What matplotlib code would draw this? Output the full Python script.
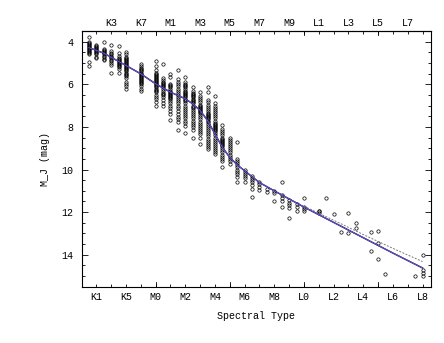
import matplotlib
matplotlib.use("Agg")
import matplotlib.pyplot as plt
from matplotlib.ticker import MultipleLocator

plt.rcParams['font.family'] = ['Liberation Mono', 'DejaVu Sans Mono']

# --- Data: spectral-type code (M0 = 0, L0 = 10, K7 = -1, K1 = -4) and M_J per column ---
mj_K0 = [3.78, 4.0, 4.05, 4.1, 4.15, 4.2, 4.25, 4.3, 4.35, 4.4, 4.45, 4.5, 4.55, 4.6, 4.95, 5.15]
mj_K1 = [4.15, 4.2, 4.25, 4.3, 4.35, 4.4, 4.45, 4.5, 4.55, 4.6, 4.7, 4.75]
mj_K2 = [4.0, 4.35, 4.4, 4.45, 4.5, 4.55, 4.6, 4.65, 4.7, 4.8, 4.88]
mj_K3 = [4.18, 4.45, 4.55, 4.6, 4.65, 4.7, 4.75, 4.85, 4.9, 5.0, 5.1, 5.45]
mj_K4 = [4.2, 4.55, 4.65, 4.75, 4.8, 4.85, 4.9, 4.95, 5.0, 5.05, 5.1, 5.15, 5.2, 5.3, 5.45]
mj_K5 = [4.5, 4.6, 4.7, 4.75, 4.8, 4.85, 4.9, 4.95, 5.0, 5.05, 5.1, 5.15, 5.2, 5.25, 5.3,
         5.35, 5.4, 5.45, 5.5, 5.55, 5.6, 5.7, 5.9, 6.0, 6.1, 6.2]
mj_K7 = [5.05, 5.15, 5.25, 5.3, 5.35, 5.4, 5.45, 5.5, 5.55, 5.6, 5.65, 5.7, 5.75, 5.8, 5.85,
         5.9, 5.95, 6.0, 6.1, 6.2, 6.3]
mj_M0 = [4.92, 5.12, 5.35, 5.45, 5.5, 5.55, 5.6, 5.65, 5.7, 5.75, 5.8, 5.85, 5.9, 5.95, 6.0,
         6.05, 6.1, 6.15, 6.2, 6.25, 6.3, 6.35, 6.5, 6.6, 6.7, 6.85, 7.0]
mj_M05 = [5.04, 5.7, 5.8, 5.9, 5.95, 6.0, 6.05, 6.1, 6.15, 6.2, 6.3, 6.4, 6.45, 6.5, 6.6,
          6.75, 6.9, 7.0]
mj_M1 = [5.5, 5.67, 6.0, 6.05, 6.1, 6.15, 6.2, 6.3, 6.35, 6.4, 6.45, 6.5, 6.55, 6.6, 6.65,
         6.7, 6.8, 6.9, 7.0, 7.1, 7.25, 7.4, 7.67]
mj_M15 = [5.35, 5.74, 5.9, 6.0, 6.1, 6.2, 6.3, 6.4, 6.5, 6.6, 6.7, 6.8, 6.9, 7.0, 7.1,
          7.25, 7.4, 7.55, 7.65, 7.75, 8.13]
mj_M2 = [5.66, 5.9, 6.0, 6.05, 6.1, 6.15, 6.2, 6.3, 6.35, 6.4, 6.45, 6.5, 6.55, 6.6, 6.7,
         6.75, 6.8, 6.9, 7.0, 7.1, 7.2, 7.3, 7.4, 7.5, 7.6, 7.7, 7.8, 7.95, 8.28]
mj_M25 = [6.14, 6.3, 6.4, 6.45, 6.5, 6.55, 6.6, 6.7, 6.75, 6.8, 6.85, 6.9, 7.0, 7.05, 7.1,
          7.2, 7.3, 7.4, 7.5, 7.6, 7.7, 7.8, 7.9, 8.0, 8.15, 8.5]
mj_M3 = [6.37, 6.55, 6.65, 6.75, 6.85, 6.95, 7.0, 7.05, 7.1, 7.15, 7.2, 7.25, 7.3, 7.35, 7.45,
         7.55, 7.65, 7.75, 7.85, 7.95, 8.05, 8.15, 8.25, 8.35, 8.5, 8.8]
mj_M35 = [6.14, 6.37, 6.75, 6.85, 6.95, 7.05, 7.15, 7.25, 7.35, 7.4, 7.45, 7.5, 7.55, 7.6,
          7.65, 7.7, 7.75, 7.85, 7.95, 8.05, 8.15, 8.25, 8.35, 8.45, 8.55, 8.65, 8.75, 8.85,
          8.95, 9.05]
mj_M4 = [6.55, 6.9, 7.0, 7.1, 7.2, 7.3, 7.4, 7.5, 7.6, 7.7, 7.8, 7.85, 7.9, 7.95, 8.0, 8.05,
         8.1, 8.15, 8.2, 8.3, 8.4, 8.5, 8.6, 8.7, 8.8, 8.9, 9.0, 9.1, 9.2, 9.27]
mj_M45 = [7.9, 8.1, 8.2, 8.3, 8.4, 8.5, 8.55, 8.6, 8.65, 8.7, 8.75, 8.8, 8.85, 8.9, 9.0,
          9.1, 9.2, 9.3, 9.4, 9.5, 9.6, 9.9]
mj_M5 = [8.5, 8.6, 8.7, 8.8, 8.9, 9.0, 9.1, 9.2, 9.3, 9.4, 9.5, 9.6, 9.75]
mj_M55 = [8.7, 9.5, 9.6, 9.7, 9.8, 9.9, 10.0, 10.1, 10.2, 10.35, 10.6]
mj_M6 = [10.0, 10.1, 10.2, 10.3, 10.4, 10.6]
mj_M65 = [10.3, 10.4, 10.5, 10.6, 10.75, 10.9, 11.3]
mj_M7 = [10.6, 10.7, 10.8, 10.95]
mj_M75 = [10.92, 11.05]
mj_M8 = [11.0, 11.1, 11.5]
mj_M85 = [10.6, 11.2, 11.34, 11.5, 11.74]
mj_M9 = [11.42, 11.55, 11.66, 11.8, 12.28]
mj_M95 = [11.61, 11.75, 11.97]
mj_L0 = [11.34, 11.74, 11.85, 11.97]
mj_L1 = [11.94, 11.97, 12.05]
mj_L15 = [11.34]
mj_L2 = [12.08]
mj_L25 = [12.91]
mj_L3 = [12.02, 12.99]
mj_L35 = [12.52, 12.75]
mj_L45 = [12.94, 13.82]
mj_L5 = [12.87, 13.46, 14.21]
mj_L55 = [14.9]
mj_L75 = [15.0]
mj_L8 = [14.01, 14.72, 14.85, 15.0]

columns = [(-4.5, mj_K0), (-4, mj_K1), (-3.5, mj_K2), (-3, mj_K3), (-2.5, mj_K4),
           (-2, mj_K5), (-1, mj_K7), (0, mj_M0), (0.5, mj_M05), (1, mj_M1),
           (1.5, mj_M15), (2, mj_M2), (2.5, mj_M25), (3, mj_M3), (3.5, mj_M35),
           (4, mj_M4), (4.5, mj_M45), (5, mj_M5), (5.5, mj_M55), (6, mj_M6),
           (6.5, mj_M65), (7, mj_M7), (7.5, mj_M75), (8, mj_M8), (8.5, mj_M85),
           (9, mj_M9), (9.5, mj_M95), (10, mj_L0), (11, mj_L1), (11.5, mj_L15),
           (12, mj_L2), (12.5, mj_L25), (13, mj_L3), (13.5, mj_L35), (14.5, mj_L45),
           (15, mj_L5), (15.5, mj_L55), (17.5, mj_L75), (18, mj_L8)]

# Relation curves
fit_spt = [-4.5, -3.5, -2, -1, 0, 1, 2, 2.5, 3, 3.5, 4, 4.5, 5, 5.5, 6, 7, 8, 9, 10, 12, 14, 16, 18]
fit_mj = [4.28, 4.54, 5.12, 5.51, 5.98, 6.37, 6.68, 6.92, 7.23, 7.70, 8.33, 8.96, 9.43, 9.78,
          10.06, 10.61, 11.00, 11.38, 11.76, 12.48, 13.20, 13.92, 14.62]
dash_spt = [10, 12, 14, 16, 18]
dash_mj = [11.72, 12.38, 13.05, 13.70, 14.32]

bottom_ticks = [-4, -2, 0, 2, 4, 6, 8, 10, 12, 14, 16, 18]
bottom_labels = ['K1', 'K5', 'M0', 'M2', 'M4', 'M6', 'M8', 'L0', 'L2', 'L4', 'L6', 'L8']
top_ticks = [-3, -1, 1, 3, 5, 7, 9, 11, 13, 15, 17]
top_labels = ['K3', 'K7', 'M1', 'M3', 'M5', 'M7', 'M9', 'L1', 'L3', 'L5', 'L7']
y_ticks = [4, 6, 8, 10, 12, 14]

fig = plt.figure(figsize=(4.44, 3.43), dpi=100)
ax = fig.add_axes([0.1836, 0.1641, 0.970 - 0.1836, 0.9096 - 0.1641])

xs, ys = [], []
for s, vals in columns:
    xs.extend([s] * len(vals))
    ys.extend(vals)
ax.plot(xs, ys, 'o', ms=2.4, mfc='none', mec='black', mew=0.5, zorder=2)

ax.plot(fit_spt, fit_mj, '-', color='black', lw=1.0, zorder=3)
ax.plot(fit_spt, fit_mj, '-', color='#6a4fe0', lw=0.8, zorder=4)
ax.plot(dash_spt, dash_mj, '--', color='#777777', lw=0.7, dashes=(2, 1.5), zorder=3)

ax.set_xlim(-5, 18.55)
ax.set_ylim(15.5, 3.5)

fs = 7.2
ax.set_xticks(bottom_ticks)
ax.set_xticklabels(bottom_labels, fontsize=fs)
ax.xaxis.set_minor_locator(MultipleLocator(1))
ax.set_yticks(y_ticks)
ax.set_yticklabels([str(v) for v in y_ticks], fontsize=fs)
ax.yaxis.set_minor_locator(MultipleLocator(0.5))

ax.tick_params(which='both', direction='in', top=True, right=True, width=0.6)
ax.tick_params(which='major', length=4.5)
ax.tick_params(which='minor', length=2.5)
ax.tick_params(axis='x', which='major', length=2.5, pad=4)
ax.tick_params(axis='y', pad=6)
# major x ticks every 5 subtypes are longer
for v in [0, 5, 10, 15]:
    ax.axvline(v, ymin=0, ymax=0.017, color='black', lw=0.6)
    ax.axvline(v, ymin=0.983, ymax=1, color='black', lw=0.6)

secax = ax.secondary_xaxis('top')
secax.set_xticks(top_ticks)
secax.set_xticklabels(top_labels, fontsize=fs)
secax.tick_params(direction='in', length=0, pad=2)

for sp in ax.spines.values():
    sp.set_linewidth(0.8)

ax.set_xlabel('Spectral Type', fontsize=fs, labelpad=6)
ax.set_ylabel('M_J (mag)', fontsize=fs, labelpad=8)

fig.savefig('out.png', dpi=100)
